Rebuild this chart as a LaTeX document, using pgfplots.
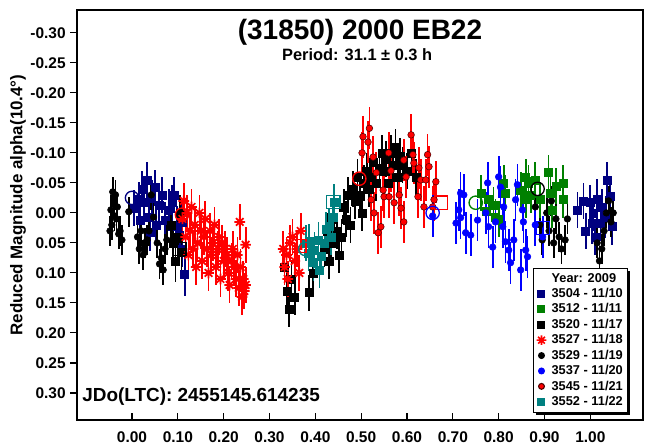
\documentclass[border=0pt]{standalone}
\usepackage{pgfplots}
\pgfplotsset{compat=1.18}
\usepackage{fontspec}
\setmainfont{Liberation Sans}
\usetikzlibrary{shadows}
\definecolor{cnavy}{RGB}{0,0,128}
\definecolor{cgreen}{RGB}{0,128,0}
\definecolor{cteal}{RGB}{0,128,128}
\definecolor{cred}{RGB}{255,0,0}
\definecolor{cblue}{RGB}{0,0,255}
\pgfdeclareplotmark{ast8}{%
  \pgfpathmoveto{\pgfqpoint{-\pgfplotmarksize}{0pt}}\pgfpathlineto{\pgfqpoint{\pgfplotmarksize}{0pt}}%
  \pgfpathmoveto{\pgfqpoint{0pt}{-\pgfplotmarksize}}\pgfpathlineto{\pgfqpoint{0pt}{\pgfplotmarksize}}%
  \pgfpathmoveto{\pgfqpoint{-0.707\pgfplotmarksize}{-0.707\pgfplotmarksize}}\pgfpathlineto{\pgfqpoint{0.707\pgfplotmarksize}{0.707\pgfplotmarksize}}%
  \pgfpathmoveto{\pgfqpoint{-0.707\pgfplotmarksize}{0.707\pgfplotmarksize}}\pgfpathlineto{\pgfqpoint{0.707\pgfplotmarksize}{-0.707\pgfplotmarksize}}%
  \pgfusepathqstroke}
\pgfplotsset{
  eb/.style={only marks, forget plot,
    error bars/y dir=both, error bars/y explicit, error bars/error mark=none,
    error bars/error bar style={line width=1.3pt}},
  lg/.style={only marks, legend image code/.code={\path (0pt,0pt) (9pt,0pt); \draw[##1] plot coordinates {(4pt,0pt)};}},
}
\begin{document}
\begin{tikzpicture}
\useasboundingbox (0,0) rectangle (489pt,333.75pt);
\begin{axis}[
  at={(57.75pt,18.75pt)}, anchor=south west,
  scale only axis, width=424.5pt, height=307.5pt,
  xmin=-0.12, xmax=1.115, ymin=-0.338, ymax=0.345, y dir=reverse,
  axis line style={line width=1pt},
  xtick={0,0.1,0.2,0.3,0.4,0.5,0.6,0.7,0.8,0.9,1.0},
  ytick={-0.3,-0.25,-0.2,-0.15,-0.1,-0.05,0,0.05,0.1,0.15,0.2,0.25,0.3},
  xtick pos=left, ytick pos=left,
  xtick align=inside, ytick align=outside,
  major tick length=5pt,
  tick style={line width=0.8pt, color=black},
  xticklabel style={font=\bfseries\fontsize{11.6}{13}\selectfont, yshift=-5pt},
  yticklabel style={font=\bfseries\fontsize{11.6}{13}\selectfont},
  /pgf/number format/.cd, fixed, fixed zerofill, precision=2, assume math mode=true,
  /pgfplots/.cd,
  legend style={at={(axis description cs:0.9735,0.018)}, anchor=south east,
    draw=black, line width=0.8pt, fill=white,
    drop shadow={shadow xshift=2.2pt, shadow yshift=-2.2pt, opacity=1, fill=black},
    font=\bfseries\fontsize{9.6}{11}\selectfont, inner sep=1.5pt, row sep=-0.9pt,
    cells={anchor=west}},
  legend cell align=left,
]
% 3504 navy squares
\addplot[eb, mark=square*, mark size=3pt, color=cnavy] table[y error index=2, row sep=\\]{
0.004 -0.008 0.03\\ 0.015 -0.022 0.03\\ 0.017 0.012 0.03\\ 0.026 -0.017 0.035\\
0.033 -0.055 0.03\\ 0.037 0.007 0.03\\ 0.039 0.033 0.03\\ 0.043 -0.025 0.03\\
0.050 -0.042 0.03\\ 0.059 -0.013 0.035\\ 0.065 -0.030 0.03\\ 0.072 0.012 0.03\\
0.080 -0.005 0.035\\ 0.087 -0.017 0.03\\ 0.098 0.023 0.035\\ 0.104 0.037 0.03\\
0.109 0.015 0.03\\ 0.115 0.103 0.035\\ 0.110 0.060 0.03\\ 0.022 -0.040 0.03\\
0.053 0.020 0.03\\ 0.092 -0.030 0.03\\
0.972 -0.005 0.03\\ 0.985 -0.020 0.03\\ 0.990 0.030 0.03\\ 1.000 -0.017 0.03\\
1.004 0.017 0.035\\ 1.007 0.000 0.03\\ 1.011 0.040 0.03\\ 1.015 -0.022 0.035\\
1.022 0.017 0.03\\ 1.026 -0.010 0.03\\ 1.033 0.007 0.035\\ 1.037 -0.055 0.03\\
1.043 -0.027 0.03\\ 1.048 0.023 0.03\\
};
% 3529 black circles
\addplot[eb, mark=*, mark size=2.5pt, color=black] table[y error index=2, row sep=\\]{
-0.048 0.030 0.025\\ -0.046 -0.005 0.025\\ -0.044 0.020 0.025\\ -0.042 -0.035 0.025\\
-0.040 -0.015 0.025\\ -0.038 0.005 0.025\\ -0.036 -0.030 0.025\\ -0.034 0.010 0.025\\
-0.032 -0.010 0.025\\ -0.029 0.035 0.025\\ -0.026 0.030 0.025\\ -0.022 0.045 0.025\\
-0.007 -0.002 0.025\\ 0.012 0.040 0.025\\ 0.016 0.060 0.025\\ 0.020 0.030 0.025\\
0.024 0.070 0.025\\ 0.028 0.050 0.025\\ 0.033 0.045 0.025\\ 0.037 0.030 0.025\\
0.042 -0.030 0.025\\ 0.047 0.007 0.025\\ 0.055 0.050 0.025\\ 0.060 0.085 0.025\\
0.064 0.075 0.025\\ 0.068 0.095 0.025\\ 0.072 0.060 0.025\\ 0.076 0.045 0.025\\
0.870 -0.030 0.025\\ 0.880 -0.010 0.025\\ 0.890 0.020 0.025\\ 0.895 0.045 0.025\\
0.905 0.000 0.025\\ 0.910 0.030 0.025\\ 0.915 -0.020 0.025\\ 0.920 0.050 0.025\\
0.925 0.010 0.025\\ 0.932 0.040 0.025\\ 0.937 0.060 0.025\\ 0.945 0.045 0.025\\
0.950 0.010 0.025\\ 1.015 0.050 0.025\\ 1.020 0.080 0.025\\ 1.025 0.060 0.025\\
1.030 0.030 0.025\\ 1.035 0.000 0.025\\ 1.040 -0.020 0.025\\ 1.045 0.015 0.025\\
1.050 0.000 0.025\\
};
% 3520 black squares
\addplot[eb, mark=square*, mark size=3pt, color=black] table[y error index=2, row sep=\\]{
0.085 0.020 0.03\\ 0.090 0.050 0.03\\ 0.095 0.080 0.035\\ 0.100 0.040 0.03\\
0.105 0.000 0.03\\ 0.108 0.065 0.03\\
0.333 0.090 0.03\\ 0.338 0.130 0.035\\ 0.343 0.160 0.03\\ 0.348 0.110 0.03\\
0.355 0.140 0.03\\ 0.387 0.133 0.03\\ 0.395 0.100 0.03\\ 0.420 0.060 0.03\\
0.425 0.030 0.03\\ 0.430 0.080 0.03\\ 0.435 0.050 0.03\\ 0.440 0.010 0.03\\
0.447 0.030 0.03\\ 0.452 0.070 0.03\\ 0.457 0.040 0.03\\ 0.462 -0.010 0.03\\
0.467 0.010 0.03\\ 0.472 -0.030 0.03\\ 0.477 0.020 0.03\\ 0.482 -0.040 0.03\\
0.487 -0.020 0.03\\ 0.492 -0.060 0.03\\ 0.497 -0.030 0.03\\ 0.502 0.000 0.03\\
0.507 -0.050 0.03\\ 0.512 -0.070 0.03\\ 0.517 -0.040 0.03\\ 0.522 -0.060 0.03\\
0.527 -0.085 0.03\\ 0.532 -0.050 0.03\\ 0.540 -0.075 0.03\\ 0.545 -0.100 0.03\\
0.550 -0.070 0.03\\ 0.555 -0.090 0.03\\
0.560 -0.050 0.03\\ 0.565 -0.100 0.03\\ 0.570 -0.080 0.03\\ 0.575 -0.110 0.03\\
0.580 -0.060 0.03\\ 0.585 -0.095 0.03\\ 0.590 -0.080 0.03\\ 0.600 -0.070 0.03\\
0.610 -0.100 0.03\\ 0.620 -0.060 0.03\\
};
% 3527 red asterisks
\addplot[eb, mark=ast8, mark size=4pt, color=cred, mark options={line width=1.3pt}] table[y error index=2, row sep=\\]{
0.110 0.010 0.03\\ 0.113 -0.020 0.03\\ 0.117 0.040 0.03\\ 0.120 0.000 0.03\\
0.123 0.070 0.03\\ 0.127 0.030 0.03\\ 0.130 -0.010 0.03\\ 0.133 0.060 0.03\\
0.137 0.020 0.03\\ 0.140 0.090 0.03\\ 0.143 0.050 0.03\\ 0.147 0.000 0.03\\
0.150 0.030 0.03\\ 0.153 0.080 0.03\\ 0.157 0.040 0.03\\ 0.160 0.010 0.03\\
0.163 0.060 0.03\\ 0.167 0.100 0.03\\ 0.170 0.030 0.03\\ 0.173 0.070 0.03\\
0.177 0.050 0.03\\ 0.180 0.020 0.03\\ 0.183 0.090 0.03\\ 0.187 0.060 0.03\\
0.190 0.040 0.03\\ 0.193 0.110 0.03\\ 0.197 0.050 0.03\\ 0.200 0.080 0.03\\
0.203 0.060 0.03\\ 0.207 0.070 0.03\\ 0.210 0.100 0.03\\ 0.213 0.120 0.03\\
0.217 0.080 0.03\\ 0.220 0.060 0.03\\ 0.223 0.090 0.03\\ 0.227 0.110 0.03\\
0.230 0.070 0.03\\ 0.233 0.125 0.03\\ 0.237 0.090 0.03\\ 0.240 0.140 0.03\\
0.243 0.110 0.03\\ 0.245 0.130 0.03\\ 0.248 0.120 0.03\\ 0.235 0.015 0.03\\
0.248 0.053 0.03\\
0.330 0.060 0.03\\ 0.333 0.090 0.03\\ 0.337 0.070 0.03\\ 0.340 0.110 0.03\\
0.345 0.050 0.03\\ 0.350 0.040 0.03\\ 0.355 0.080 0.03\\ 0.360 0.060 0.03\\
0.365 0.100 0.03\\ 0.368 0.030 0.03\\
};
% 3552 teal squares
\addplot[eb, mark=square*, mark size=3pt, color=cteal] table[y error index=2, row sep=\\]{
0.380 0.050 0.03\\ 0.385 0.067 0.03\\ 0.387 0.048 0.03\\ 0.396 0.083 0.03\\
0.398 0.062 0.03\\ 0.407 0.045 0.03\\ 0.409 0.095 0.03\\ 0.413 0.073 0.03\\
0.420 0.050 0.03\\ 0.424 0.028 0.03\\ 0.430 0.023 0.03\\ 0.435 0.040 0.03\\
0.439 0.007 0.03\\ 0.441 -0.018 0.03\\
};
% 3545 red circles
\addplot[eb, mark=*, mark size=2.5pt, color=cred, mark options={draw=black!70!red, line width=0.4pt}] table[y error index=2, row sep=\\]{
0.504 -0.127 0.035\\ 0.502 -0.100 0.035\\ 0.518 -0.141 0.035\\ 0.515 -0.118 0.035\\
0.526 -0.093 0.035\\ 0.533 -0.067 0.035\\ 0.548 -0.038 0.035\\ 0.550 -0.027 0.035\\
0.543 0.023 0.035\\ 0.537 0.033 0.035\\ 0.528 0.000 0.035\\ 0.522 -0.022 0.035\\
0.609 -0.130 0.035\\ 0.613 -0.097 0.035\\ 0.593 -0.088 0.035\\ 0.615 -0.083 0.035\\
0.598 -0.060 0.035\\ 0.583 -0.030 0.035\\ 0.587 -0.008 0.035\\ 0.593 0.015 0.035\\
0.626 -0.075 0.035\\ 0.630 -0.055 0.035\\ 0.645 -0.097 0.035\\ 0.648 -0.077 0.035\\
0.641 -0.055 0.035\\ 0.663 -0.052 0.035\\ 0.659 -0.022 0.035\\ 0.656 -0.010 0.035\\
0.637 -0.010 0.035\\ 0.572 -0.017 0.035\\ 0.561 -0.027 0.035\\ 0.624 -0.027 0.035\\
0.560 -0.100 0.035\\ 0.565 -0.070 0.035\\
};
% 3512 green squares
\addplot[eb, mark=square*, mark size=3pt, color=cgreen] table[y error index=2, row sep=\\]{
0.761 -0.033 0.03\\ 0.772 -0.002 0.03\\ 0.778 -0.022 0.03\\ 0.789 -0.013 0.03\\
0.793 0.007 0.03\\ 0.800 0.010 0.03\\ 0.811 -0.050 0.03\\ 0.815 -0.033 0.03\\
0.848 -0.038 0.03\\ 0.859 -0.060 0.03\\ 0.859 -0.022 0.03\\ 0.865 -0.050 0.03\\
0.870 -0.030 0.03\\ 0.880 -0.055 0.03\\ 0.891 -0.022 0.03\\ 0.909 -0.067 0.03\\
0.913 -0.033 0.03\\ 0.917 -0.005 0.03\\ 0.925 -0.045 0.03\\ 0.941 -0.050 0.03\\
0.941 -0.022 0.03\\
};
% 3537 blue circles
\addplot[eb, mark=*, mark size=2.5pt, color=cblue] table[y error index=2, row sep=\\]{
0.656 0.005 0.035\\ 0.707 0.017 0.035\\ 0.713 -0.005 0.035\\ 0.717 -0.033 0.035\\
0.717 0.008 0.035\\ 0.724 -0.030 0.035\\ 0.728 0.033 0.035\\ 0.739 0.037 0.035\\
0.754 0.012 0.035\\ 0.776 -0.050 0.035\\ 0.772 0.000 0.035\\ 0.778 0.023 0.035\\
0.787 0.057 0.035\\ 0.793 0.015 0.035\\ 0.800 -0.060 0.035\\ 0.804 -0.043 0.035\\
0.811 -0.010 0.035\\ 0.809 0.023 0.035\\ 0.815 0.048 0.035\\ 0.822 0.062 0.035\\
0.826 0.083 0.035\\ 0.833 0.045 0.035\\ 0.837 -0.022 0.035\\ 0.841 -0.047 0.035\\
0.852 -0.005 0.035\\ 0.854 0.015 0.035\\ 0.859 0.062 0.035\\ 0.863 0.073 0.035\\
0.848 0.095 0.035\\ 0.880 0.020 0.035\\ 0.896 0.040 0.035\\
};
% hollow start/end markers
\addplot[only marks, forget plot, mark=o, mark size=5pt, color=cred, mark options={line width=1pt}] coordinates {(0.496,-0.057) (0.109,0.003)};
\addplot[only marks, forget plot, mark=square, mark size=5pt, color=cred, mark options={line width=1pt}] coordinates {(0.674,-0.017) (0.365,0.055)};
\addplot[only marks, forget plot, mark=square, mark size=5pt, color=cteal, mark options={line width=1pt}] coordinates {(0.439,-0.018)};
\addplot[only marks, forget plot, mark=o, mark size=5pt, color=cteal, mark options={line width=1pt}] coordinates {(0.378,0.060)};
\addplot[only marks, forget plot, mark=o, mark size=5pt, color=cblue, mark options={line width=1pt}] coordinates {(0.656,0.000)};
\addplot[only marks, forget plot, mark=square, mark size=5pt, color=cblue, mark options={line width=1pt}] coordinates {(0.896,0.025)};
\addplot[only marks, forget plot, mark=o, mark size=5pt, color=cgreen, mark options={line width=1pt}] coordinates {(0.750,-0.017)};
\addplot[only marks, forget plot, mark=o, mark size=5pt, color=black, mark options={line width=1pt}] coordinates {(0.885,-0.040)};
\addplot[only marks, forget plot, mark=square, mark size=5pt, color=black, mark options={line width=1pt}] coordinates {(0.103,0.060)};
\addplot[only marks, forget plot, mark=o, mark size=5pt, color=cnavy, mark options={line width=1pt}] coordinates {(0.000,-0.025)};
% legend
\addlegendimage{legend image code/.code={\path (0pt,0pt) (9pt,0pt);}}
\addlegendentry{Year: 2009}
\addlegendimage{lg, mark=square*, mark size=2.6pt, color=cnavy}
\addlegendentry{3504 - 11/10}
\addlegendimage{lg, mark=square*, mark size=2.6pt, color=cgreen}
\addlegendentry{3512 - 11/11}
\addlegendimage{lg, mark=square*, mark size=2.6pt, color=black}
\addlegendentry{3520 - 11/17}
\addlegendimage{lg, mark=ast8, mark size=3.6pt, color=cred, line width=1.2pt}
\addlegendentry{3527 - 11/18}
\addlegendimage{lg, mark=*, mark size=2.2pt, color=black}
\addlegendentry{3529 - 11/19}
\addlegendimage{lg, mark=*, mark size=2.2pt, color=cblue}
\addlegendentry{3537 - 11/20}
\addlegendimage{lg, mark=*, mark size=2.2pt, color=cred, mark options={draw=black!70!red}}
\addlegendentry{3545 - 11/21}
\addlegendimage{lg, mark=square*, mark size=2.6pt, color=cteal}
\addlegendentry{3552 - 11/22}
% texts
\node[font=\bfseries\fontsize{21}{24}\selectfont] at (axis description cs:0.5,0.946) {(31850) 2000 EB22};
\node[font=\bfseries\fontsize{12.3}{14}\selectfont] at (axis description cs:0.495,0.890) {Period: 31.1 ± 0.3 h};
\node[font=\bfseries\fontsize{14.2}{16}\selectfont, anchor=west, inner sep=0pt] at (axis description cs:0.009,0.056) {JDo(LTC): 2455145.614235};
\end{axis}
\node[rotate=90, font=\bfseries\fontsize{12.7}{14}\selectfont] at (13.5pt,180pt) {Reduced Magnitude alpha(10.4°)};
\end{tikzpicture}
\end{document}
